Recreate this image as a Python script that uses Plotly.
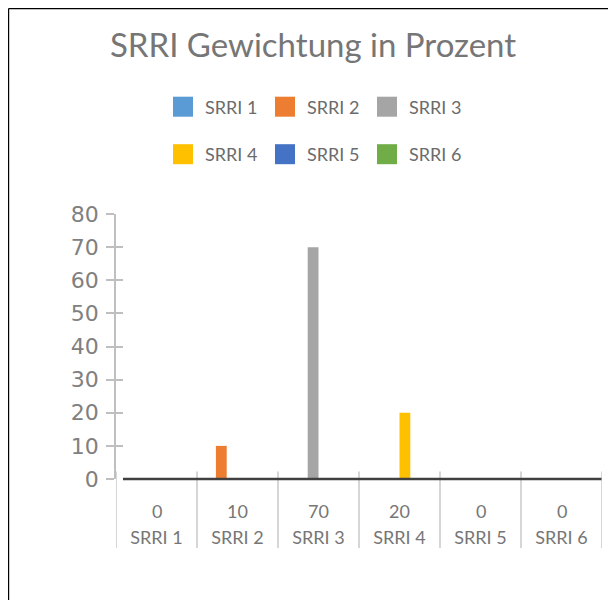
import plotly.graph_objects as go

# ---- data ----
categories = ["SRRI 1", "SRRI 2", "SRRI 3", "SRRI 4", "SRRI 5", "SRRI 6"]
values = [0, 10, 70, 20, 0, 0]
colors = ["#5B9BD5", "#ED7D31", "#A5A5A5", "#FFC000", "#4472C4", "#70AD47"]
y_ticks = [0, 10, 20, 30, 40, 50, 60, 70, 80]

# page body has an 8px margin: figure is sized/positioned to compensate
OFF = 8
W, H = 616 - OFF, 600 - OFF
# plot area in page pixels: x 116..602, y 214..479
L, R, T, B = 116 - OFF, 616 - 602, 214 - OFF, 600 - 479
PW, PH = W - L - R, H - T - B


def px_x(px):  # page px -> paper x
    return (px - OFF - L) / PW


def px_y(py):  # page px -> paper y
    return (H - B - (py - OFF)) / PH


fig = go.Figure()
for i, name in enumerate(categories):
    fig.add_trace(go.Bar(
        x=categories,
        y=[values[i] if j == i else None for j in range(len(categories))],
        name=name,
        marker=dict(color=colors[i], line=dict(width=0)),
        showlegend=False,
    ))
# helper trace so the overlay y axis (inner tick marks) is drawn
fig.add_trace(go.Scatter(x=[categories[0]], y=[None], yaxis="y2", showlegend=False, hoverinfo="skip"))

shapes = []
annotations = []

# category separators (data-table grid)
for k in range(len(categories) + 1):
    shapes.append(dict(type="line", xref="x", yref="paper",
                       x0=k - 0.5, x1=k - 0.5, y0=px_y(548), y1=px_y(471.5),
                       line=dict(color="#C8C8C8", width=1.5)))
# dark horizontal axis line (paper refs so it is not clipped at the plot edge)
shapes.append(dict(type="line", xref="paper", yref="paper", x0=px_x(123), x1=px_x(601.5), y0=0, y1=0,
                   line=dict(color="#404040", width=2.5)))
# chart frame (top and left edges)
shapes.append(dict(type="line", xref="paper", yref="paper", x0=px_x(8.6), x1=px_x(620),
                   y0=px_y(8.6), y1=px_y(8.6), line=dict(color="black", width=1.2)))
shapes.append(dict(type="line", xref="paper", yref="paper", x0=px_x(8.6), x1=px_x(8.6),
                   y0=px_y(8.6), y1=px_y(605), line=dict(color="black", width=1.2)))

# value row of the data table
for j, v in enumerate(values):
    annotations.append(dict(x=categories[j], xref="x", y=px_y(510.5), yref="paper",
                            text=str(v), showarrow=False, yanchor="middle", xanchor="center",
                            font=dict(family="Lato", size=18, color="#767676")))

# legend (manual, 3 per row)
for i, name in enumerate(categories):
    col, row = i % 3, i // 3
    sx = 173 + col * 102
    cy = 106.7 + row * 47.5
    shapes.append(dict(type="rect", xref="paper", yref="paper",
                       x0=px_x(sx), x1=px_x(sx + 20), y0=px_y(cy + 10), y1=px_y(cy - 10),
                       fillcolor=colors[i], line=dict(width=0)))
    annotations.append(dict(x=px_x(sx + 30), xref="paper", y=px_y(cy), yref="paper",
                            text=name, showarrow=False, xanchor="left", yanchor="middle",
                            font=dict(family="Lato", size=18, color="#6B6B6B")))

fig.update_layout(
    width=W, height=H,
    margin=dict(l=L, r=R, t=T, b=B, pad=0),
    paper_bgcolor="white", plot_bgcolor="white",
    barmode="group", bargap=0.2, bargroupgap=0,
    title=dict(text="SRRI Gewichtung in Prozent", x=(313 - OFF) / W, xanchor="center",
               y=1 - (45 - OFF) / H, yanchor="middle", yref="container",
               font=dict(family="Lato", size=33, color="#767676")),
    xaxis=dict(type="category", categoryorder="array", categoryarray=categories,
               range=[-0.5, len(categories) - 0.5],
               showline=False, showgrid=False, zeroline=False, ticks="",
               tickfont=dict(family="Lato", size=18, color="#767676"),
               ticklabelstandoff=46),
    yaxis=dict(range=[0, 80], tickvals=y_ticks, showgrid=False, zeroline=False,
               showline=True, linecolor="#BFBFBF", linewidth=1.5,
               ticks="outside", ticklen=8, tickcolor="#BFBFBF", tickwidth=1.5,
               tickfont=dict(family="DejaVu Sans", size=22, color="#808080"),
               ticklabelstandoff=3),
    yaxis2=dict(range=[0, 80], tickvals=y_ticks, overlaying="y", side="left", anchor="x",
                showgrid=False, zeroline=False, showline=False, showticklabels=False,
                ticks="inside", ticklen=7, tickcolor="#BFBFBF", tickwidth=1.5),
    shapes=shapes,
    annotations=annotations,
)

fig.write_html("out.html")
